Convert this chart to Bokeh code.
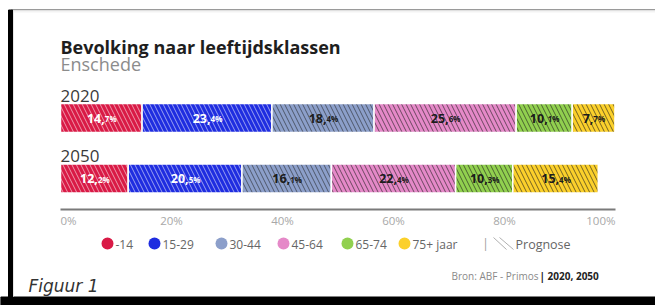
from bokeh.plotting import figure
from bokeh.models import Range1d, ColumnDataSource
from bokeh.core.properties import value
from bokeh.embed import file_html
from bokeh.resources import INLINE

# ---------------- data ----------------
years = ["2020", "2050"]
age_groups = ["-14", "15-29", "30-44", "45-64", "65-74", "75+ jaar"]
share_2020 = [14.7, 23.4, 18.4, 25.6, 10.1, 7.7]
share_2050 = [12.2, 20.5, 16.1, 22.4, 10.3, 15.4]
tick_values = [0, 20, 40, 60, 80, 100]
tick_labels = ["0%", "20%", "40%", "60%", "80%", "100%"]

# ---------------- styles ----------------
colors = ["#d91a46", "#1f2de0", "#8c9fca", "#e589c8", "#91d04f", "#fbd02b"]
hatch_colors = ["#ffffff", "#ffffff", "#1a1a1a", "#1a1a1a", "#1a1a1a", "#1a1a1a"]
hatch_alphas = [0.55, 0.55, 0.55, 0.6, 0.6, 0.6]
label_colors = ["#ffffff", "#ffffff", "#1c1c1c", "#1c1c1c", "#1c1c1c", "#1c1c1c"]

W, H = 655, 305
LEFT_PX, RIGHT_PX = 60, 615          # pixel positions of 0% and 100%
scale = 100.0 / (RIGHT_PX - LEFT_PX)
x_start = -LEFT_PX * scale
x_end = x_start + W * scale


def px(xp):
    """pixel -> data x"""
    return x_start + xp * scale


row_y = {"2020": 117.5, "2050": 178.0}
row_label_y = {"2020": 95.5, "2050": 155.5}
BAR_H = 29

p = figure(width=W, height=H, x_range=Range1d(x_start, x_end), y_range=Range1d(H, 0),
           output_backend="svg", toolbar_location=None, min_border=0,
           x_axis_location=None, y_axis_location=None)
p.grid.visible = False
p.outline_line_color = None
p.background_fill_color = "white"
p.border_fill_color = "white"

FONT = value("Open Sans")

# ---------------- frame decorations ----------------
p.segment(x0=[px(11)], y0=[9.2], x1=[px(W)], y1=[9.2], line_color="#9a9a9a", line_width=1.5)
p.segment(x0=[px(13)], y0=[11], x1=[px(W)], y1=[11], line_color="#f3f3f3", line_width=2)
p.quad(left=[px(8)], right=[px(12)], top=[9.5], bottom=[H], color="#000000")
p.quad(left=[px(0)], right=[px(W)], top=[296.5], bottom=[H], color="#000000")
p.segment(x0=[px(13)], y0=[10], x1=[px(13)], y1=[296], line_color="#e6e6e6", line_width=1)

# ---------------- titles ----------------
p.text(x=[0], y=[46], text=["Bevolking naar leeftijdsklassen"], text_font=FONT,
       text_font_style="bold", text_font_size="18px", text_color="#1e1e1e",
       text_baseline="alphabetic", text_align="left")
p.text(x=[0], y=[63], text=["Enschede"], text_font=FONT, text_font_size="18px",
       text_color="#8c8c8c", text_baseline="alphabetic", text_align="left")

# ---------------- bars ----------------
series = {"2020": share_2020, "2050": share_2050}
bar = dict(y=[], left=[], right=[], color=[], hcolor=[], halpha=[])
lab = dict(x=[], y=[], ip=[], dp=[], off=[], tc=[])
for yr in years:
    cum = 0.0
    for i, v in enumerate(series[yr]):
        bar["y"].append(row_y[yr])
        bar["left"].append(cum)
        bar["right"].append(cum + v)
        bar["color"].append(colors[i])
        bar["hcolor"].append(hatch_colors[i])
        bar["halpha"].append(hatch_alphas[i])
        ip, dp = f"{v:.1f}".split(".")
        int_w = (len(ip) * 0.60 + 0.30) * 12.5
        dec_w = (0.58 + 0.88) * 8
        lab["x"].append(cum + v / 2)
        lab["y"].append(row_y[yr])
        lab["ip"].append(ip + ",")
        lab["dp"].append(dp + "%")
        lab["off"].append(-(int_w + dec_w) / 2 + int_w)
        lab["tc"].append(label_colors[i])
        cum += v

bsrc = ColumnDataSource(bar)
p.hbar(y="y", height=BAR_H, left="left", right="right", fill_color="color",
       line_color="white", line_width=1.5, hatch_pattern="\\", hatch_color="hcolor",
       hatch_alpha="halpha", hatch_scale=9, hatch_weight=1, source=bsrc)

lsrc = ColumnDataSource(lab)
p.text(x="x", y="y", text="ip", x_offset="off", y_offset=0, text_font=FONT,
       text_font_style="bold", text_font_size="12.5px", text_color="tc",
       text_align="right", text_baseline="middle", source=lsrc)
p.text(x="x", y="y", text="dp", x_offset="off", y_offset=0.5, text_font=FONT,
       text_font_style="bold", text_font_size="8px", text_color="tc",
       text_align="left", text_baseline="middle", source=lsrc)

for yr in years:
    p.text(x=[0], y=[row_label_y[yr]], text=[yr], text_font=FONT, text_font_size="17px",
           text_color="#3a3a3a", text_baseline="alphabetic", text_align="left")

# ---------------- axis ----------------
p.segment(x0=[tick_values[0]], y0=[209], x1=[tick_values[-1]], y1=[209],
          line_color="#7a7a7a", line_width=2)
aligns = ["left"] + ["center"] * (len(tick_values) - 2) + ["right"]
p.text(x=tick_values, y=[220] * len(tick_values), text=tick_labels, text_align=aligns,
       text_baseline="middle", text_font=FONT, text_font_size="11.5px", text_color="#a8a8a8")

# ---------------- legend ----------------
legend_cx = [107, 154, 221, 283, 347, 404]
LEG_Y = 243
p.scatter(x=[px(c) for c in legend_cx], y=[LEG_Y] * 6, size=12, marker="circle",
          fill_color=colors, line_color=None)
p.text(x=[px(c + 8) for c in legend_cx], y=[LEG_Y + 0.5] * 6, text=age_groups,
       text_font=FONT, text_font_size="12px", text_color="#666666",
       text_baseline="middle", text_align="left")
p.text(x=[px(485)], y=[LEG_Y], text=["|"], text_font=FONT, text_font_size="12px",
       text_color="#9a9a9a", text_baseline="middle", text_align="center")
p.segment(x0=[px(493), px(499)], y0=[237, 237], x1=[px(506), px(513)], y1=[249, 249],
          line_color="#b0b0b0", line_width=1)
p.text(x=[px(515)], y=[LEG_Y + 0.5], text=["Prognose"], text_font=FONT,
       text_font_size="12.5px", text_color="#666666", text_baseline="middle", text_align="left")

# ---------------- source & figure number ----------------
p.text(x=[px(538)], y=[275], text=["Bron: ABF - Primos"], text_font=FONT,
       text_font_size="10px", text_color="#8a8a8a", text_baseline="middle", text_align="right")
p.text(x=[px(539)], y=[275], text=["| 2020, 2050"], text_font=FONT, text_font_style="bold",
       text_font_size="10px", text_color="#222222", text_baseline="middle", text_align="left")
p.text(x=[px(28)], y=[285], text=["Figuur 1"], text_font=value("DejaVu Sans"),
       text_font_style="italic", text_font_size="17px", text_color="#333333",
       text_baseline="middle", text_align="left")

open("out.html", "w").write(file_html(p, INLINE))
